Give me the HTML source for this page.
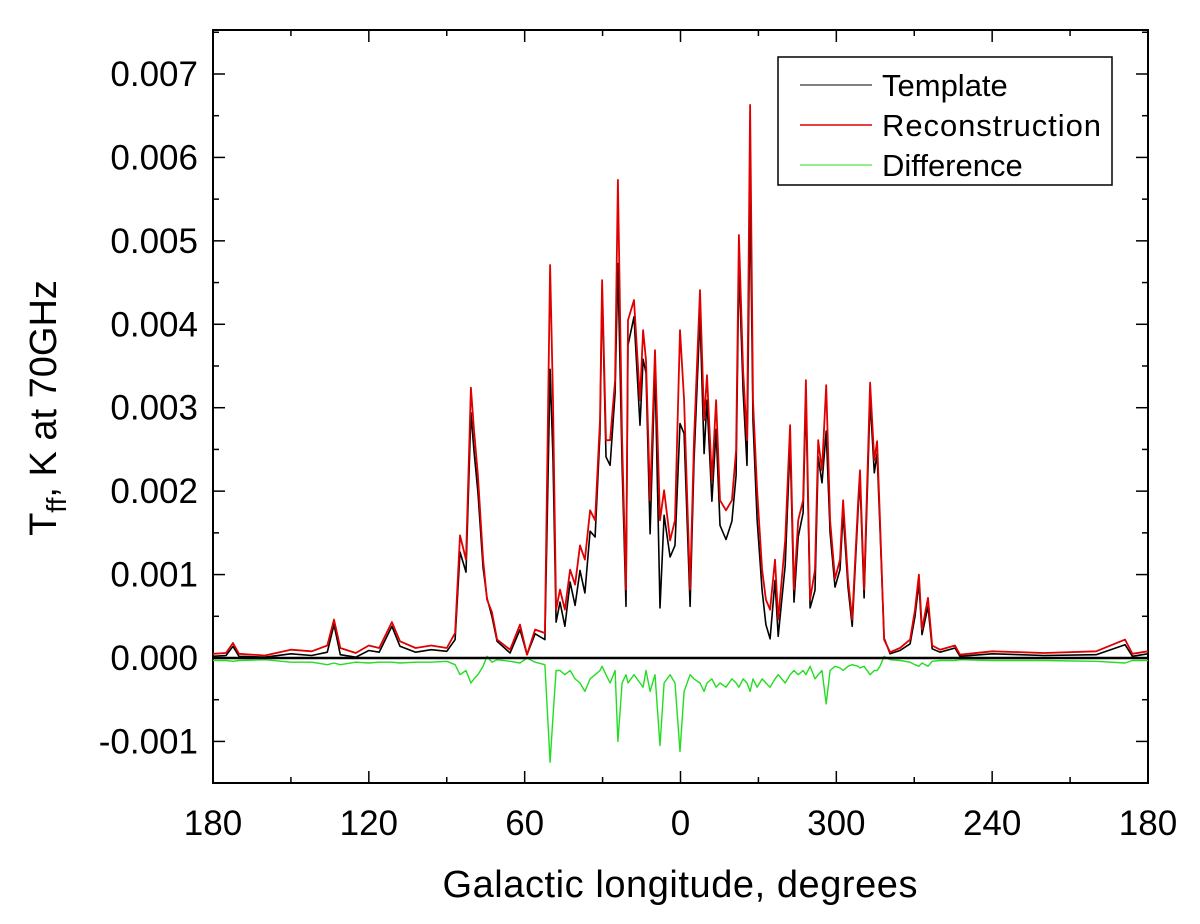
<!DOCTYPE html>
<html><head><meta charset="utf-8"><style>
html,body{margin:0;padding:0;background:#fff;}
svg text{font-family:"Liberation Sans",Arial,sans-serif;fill:#000;}
</style></head><body>
<svg id="chart" width="1200" height="919" viewBox="0 0 1200 919" xmlns="http://www.w3.org/2000/svg">
<rect x="0" y="0" width="1200" height="919" fill="#fff"/>
<g id="axes"></g>
<g id="series"></g>
<g>
<rect x="778" y="57" width="334" height="128" fill="#fff" stroke="#000" stroke-width="1.5"/>
<line x1="800" y1="85" x2="872" y2="85" stroke="#000" stroke-width="1"/>
<text x="882" y="96" font-size="31">Template</text>
<line x1="800" y1="125" x2="872" y2="125" stroke="#e00000" stroke-width="1.6"/>
<text x="882" y="136" font-size="31" textLength="219">Reconstruction</text>
<line x1="800" y1="165" x2="872" y2="165" stroke="#22dd22" stroke-width="1"/>
<text x="882" y="176" font-size="31">Difference</text>
</g>
<text x="680" y="897" font-size="38" text-anchor="middle" textLength="475">Galactic longitude, degrees</text>
<text transform="translate(56,408) rotate(-90)" font-size="38" text-anchor="middle">T<tspan font-size="28" dy="10">ff</tspan><tspan dy="-10">, K at 70GHz</tspan></text>
</svg>
<script>
const positions=[0,5,7.7,10,20,30,38,44,46.6,49,55,60,64,68.9,72,78,84,90,93.2,95.1,97.4,99.3,100.5,102.0,104.0,105.5,107.4,109.4,114.4,118.2,120.9,124.0,127.8,129.8,130.9,132.1,133.6,135.5,137.5,139.4,141.3,143.2,145.2,147.1,149.0,149.8,151.3,152.9,154.8,155.9,157.5,159.0,159.8,162.1,164.4,165.6,166.7,168.3,170.2,172.1,173.7,176.0,177.9,179.8,181.4,183.7,185.2,187.5,189.1,190.2,192.1,193.7,195.2,197.5,199.8,201.4,202.5,204.1,205.6,206.8,207.9,209.5,211.4,212.9,214.5,216.4,217.6,220.3,222.2,223.7,225.3,227.2,228.3,229.9,231.8,233.0,234.5,236.1,237.6,239.5,241.4,242.6,244.5,246.1,248.4,249.1,250.7,253.0,254.6,255.7,256.8,258.4,260.7,264.5,268.4,270.3,271.8,273.0,275.3,276.9,279.9,285.7,287.6,300,320,340,351.2,354,360];
const reconstruction=[0.05,0.06,0.18,0.05,0.03,0.10,0.08,0.15,0.46,0.12,0.06,0.15,0.12,0.43,0.2,0.12,0.15,0.12,0.30,1.47,1.18,3.24,2.73,2.19,1.18,0.70,0.55,0.22,0.10,0.40,0.04,0.34,0.30,4.71,3.09,0.58,0.82,0.58,1.06,0.88,1.35,1.18,1.77,1.65,2.85,4.53,2.61,2.61,3.33,5.73,2.61,0.82,4.05,4.29,3.09,3.93,3.57,1.89,3.69,1.65,2.01,1.41,1.65,3.93,3.09,0.82,2.61,4.41,2.85,3.39,2.13,3.09,1.89,1.77,1.89,2.49,5.07,3.45,2.61,6.63,3.09,2.01,1.06,0.70,0.58,1.18,0.46,1.41,2.79,0.82,1.65,1.89,3.33,0.70,1.06,2.61,2.25,3.27,1.65,0.95,1.18,1.89,0.95,0.46,1.89,2.25,0.82,3.30,2.37,2.60,1.65,0.22,0.07,0.12,0.22,0.58,1.0,0.34,0.72,0.15,0.10,0.15,0.04,0.08,0.06,0.08,0.22,0.05,0.08];
const template=[0.02,0.03,0.14,0.02,0.01,0.05,0.03,0.07,0.40,0.04,0.01,0.09,0.07,0.38,0.14,0.07,0.10,0.08,0.22,1.27,1.03,2.94,2.48,1.99,1.08,0.72,0.50,0.20,0.06,0.34,0.04,0.29,0.22,3.46,2.39,0.43,0.67,0.38,0.91,0.63,1.05,0.78,1.52,1.45,2.70,4.43,2.41,2.31,3.18,4.73,2.31,0.62,3.75,4.09,2.79,3.58,3.42,1.49,3.49,0.60,1.71,1.21,1.35,2.81,2.69,0.62,2.36,4.11,2.45,3.09,1.88,2.74,1.59,1.42,1.64,2.19,4.72,3.20,2.31,5.60,2.84,1.66,0.81,0.40,0.23,0.93,0.26,1.11,2.59,0.67,1.45,1.74,3.13,0.60,0.81,2.41,2.10,2.72,1.50,0.85,1.06,1.74,0.85,0.38,1.79,2.13,0.72,3.10,2.22,2.45,1.55,0.24,0.05,0.09,0.17,0.50,0.90,0.28,0.62,0.11,0.07,0.12,0.02,0.05,0.03,0.04,0.16,0.02,0.05];
const difference=[-0.03,-0.03,-0.04,-0.03,-0.02,-0.05,-0.05,-0.08,-0.06,-0.08,-0.05,-0.06,-0.05,-0.05,-0.06,-0.05,-0.05,-0.04,-0.08,-0.2,-0.15,-0.3,-0.25,-0.2,-0.1,0.02,-0.05,-0.02,-0.04,-0.06,0.0,-0.05,-0.08,-1.25,-0.7,-0.15,-0.15,-0.2,-0.15,-0.25,-0.3,-0.4,-0.25,-0.2,-0.15,-0.1,-0.2,-0.3,-0.15,-1.0,-0.3,-0.2,-0.3,-0.2,-0.3,-0.35,-0.15,-0.4,-0.2,-1.05,-0.3,-0.2,-0.3,-1.12,-0.4,-0.2,-0.25,-0.3,-0.4,-0.3,-0.25,-0.35,-0.3,-0.35,-0.25,-0.3,-0.35,-0.25,-0.3,-0.4,-0.25,-0.35,-0.25,-0.3,-0.35,-0.25,-0.2,-0.3,-0.2,-0.15,-0.2,-0.15,-0.2,-0.1,-0.25,-0.2,-0.15,-0.55,-0.15,-0.1,-0.12,-0.15,-0.1,-0.08,-0.1,-0.12,-0.1,-0.2,-0.15,-0.15,-0.1,0.02,-0.02,-0.03,-0.05,-0.08,-0.1,-0.06,-0.1,-0.04,-0.03,-0.03,-0.02,-0.03,-0.03,-0.04,-0.06,-0.03,-0.03];
const xTickPos=[0,60,120,180,240,300,360];
const xTickLabels=["180","120","60","0","300","240","180"];
const yTickVals=[-1,0,1,2,3,4,5,6,7];
const yTickLabels=["-0.001","0.000","0.001","0.002","0.003","0.004","0.005","0.006","0.007"];

const L=213,R=1148,T=30,B=783;
function xs(p){return L+(p/360)*(R-L);}
function ys(v){return 658-v*83.43;}
const NS="http://www.w3.org/2000/svg";
const axes=document.getElementById('axes'),ser=document.getElementById('series');
function mk(tag,attrs,parent){const e=document.createElementNS(NS,tag);for(const k in attrs)e.setAttribute(k,attrs[k]);parent.appendChild(e);return e;}

for(let i=0;i<xTickPos.length;i++){
  const x=xs(xTickPos[i]);
  const t=mk('line',{x1:x,y1:B,x2:x,y2:B-12,stroke:'#000','stroke-width':1.5},axes);
  
  
  mk('line',{x1:x,y1:T,x2:x,y2:T+12,stroke:'#000','stroke-width':1.5},axes);
  if(i<xTickPos.length-1){const xm=xs(xTickPos[i]+30);
    mk('line',{x1:xm,y1:B,x2:xm,y2:B-6,stroke:'#000','stroke-width':1.5},axes);
    mk('line',{x1:xm,y1:T,x2:xm,y2:T+6,stroke:'#000','stroke-width':1.5},axes);}
  const lb=mk('text',{x:x,y:835,'font-size':35,'text-anchor':'middle'},axes);
  lb.textContent=xTickLabels[i];
  
  
}
for(let i=0;i<yTickVals.length;i++){
  const y=ys(yTickVals[i]);
  const t=mk('line',{x1:L,y1:y,x2:L+12,y2:y,stroke:'#000','stroke-width':1.5},axes);
  
  
  mk('line',{x1:R,y1:y,x2:R-12,y2:y,stroke:'#000','stroke-width':1.5},axes);
  const ym=ys(yTickVals[i]+0.5);
  if(ym>T){mk('line',{x1:L,y1:ym,x2:L+6,y2:ym,stroke:'#000','stroke-width':1.5},axes);
    mk('line',{x1:R,y1:ym,x2:R-6,y2:ym,stroke:'#000','stroke-width':1.5},axes);}
  const lb=mk('text',{x:198,y:y+12,'font-size':35,'text-anchor':'end'},axes);
  lb.textContent=yTickLabels[i];
  
  
}
const fr=mk('rect',{x:L,y:T,width:R-L,height:B-T,fill:'none',stroke:'#000','stroke-width':2},axes);



function path(vals,color,w,name){
  const n=Math.min(positions.length,vals.length);
  let d='';
  for(let i=0;i<n;i++)d+=(i?'L':'M')+xs(positions[i]).toFixed(1)+' '+ys(vals[i]).toFixed(1);
  const p=mk('path',{d:d,fill:'none',stroke:color,'stroke-width':w,'stroke-linejoin':'round'},ser);
  
  
}
path(difference,'#22dd22',1.4,'difference-line');
const z=mk('line',{x1:L,y1:ys(0),x2:R,y2:ys(0),stroke:'#000','stroke-width':2.5},ser);


path(template,'#000',1.6,'template-line');
path(reconstruction,'#e00000',1.8,'reconstruction-line');
</script>
</body></html>
